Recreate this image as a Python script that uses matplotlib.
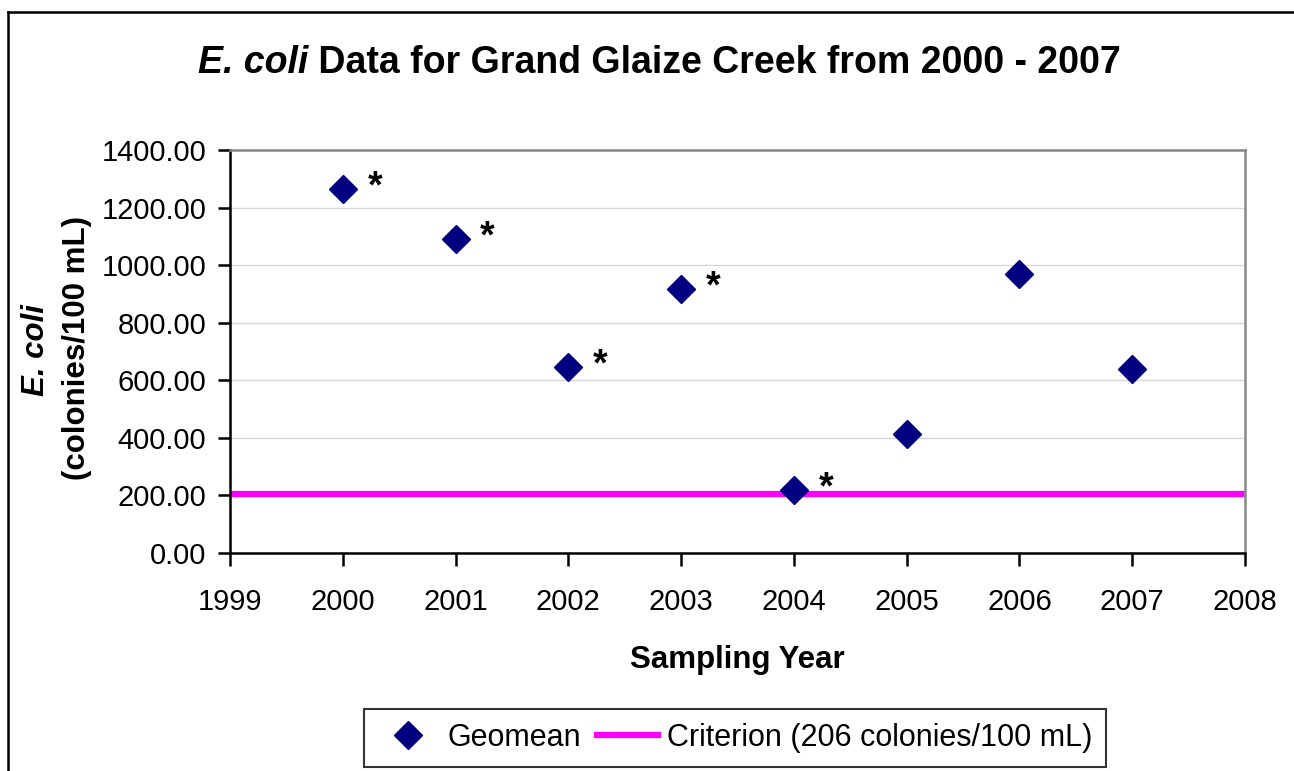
import numpy as np
import matplotlib.pyplot as plt
from matplotlib.lines import Line2D

plt.rcParams['font.family'] = ['Liberation Sans', 'DejaVu Sans']

# Data
years = [2000, 2001, 2002, 2003, 2004, 2005, 2006, 2007]
geomean = [1265, 1090, 645, 918, 220, 413, 968, 638]
flagged = [2000, 2001, 2002, 2003, 2004]   # years marked with *
criterion = 206
x_ticks = list(range(1999, 2009))
y_ticks = list(range(0, 1401, 200))

W, H = 1294, 771
fig = plt.figure(figsize=(W / 100, H / 100), dpi=100)

# outer chart border (only left and top edges visible in the crop)
fig.add_artist(Line2D([8 / W, 8 / W], [0, 1 - 12 / H], color='black', lw=1.8))
fig.add_artist(Line2D([8 / W, 1], [1 - 12 / H, 1 - 12 / H], color='black', lw=1.8))

left, right, top, bottom = 230, 1245, 150, 553
ax = fig.add_axes([left / W, 1 - bottom / H, (right - left) / W, (bottom - top) / H])

ax.axhline(criterion, color='#FF00FF', lw=4.5, zorder=2,
           label='Criterion (206 colonies/100 mL)')
ax.plot(years, geomean, linestyle='none', marker='D', ms=14.5, color='#000080',
        zorder=3, label='Geomean')

for yr, val in zip(years, geomean):
    if yr in flagged:
        ax.annotate('*', xy=(yr, val), xytext=(23, -6), textcoords='offset points',
                    ha='center', va='baseline', fontsize=27, fontweight='bold')

ax.set_xlim(1999, 2008)
ax.set_ylim(0, 1400)
ax.set_xticks(x_ticks)
ax.set_yticks(y_ticks)
ax.set_yticklabels([f'{v:.2f}' for v in y_ticks])
ax.grid(axis='y', color='#d8d8d8', lw=1)
ax.set_axisbelow(True)

for s in ['left', 'bottom']:
    ax.spines[s].set_color('black')
    ax.spines[s].set_linewidth(1.8)
for s in ['top', 'right']:
    ax.spines[s].set_color('#888888')
    ax.spines[s].set_linewidth(1.8)

ax.tick_params(axis='x', direction='out', length=9, width=1.8, pad=16, labelsize=21)
ax.tick_params(axis='y', direction='out', length=9, width=1.8, pad=8, labelsize=21)

ax.set_xlabel('Sampling Year', fontsize=22.5, fontweight='bold', labelpad=21)

# y label: two lines with mixed styles
fig.text(36 / W, 1 - 350 / H, 'E. coli', rotation=90, ha='center', va='center',
         fontsize=22.5, fontweight='bold', fontstyle='italic')
fig.text(77 / W, 1 - 348 / H, '(colonies/100 mL)', rotation=90, ha='center',
         va='center', fontsize=22.5, fontweight='bold')

# title: italic part + bold part, centred together
t1 = fig.text(0, 1 - 63 / H, 'E. coli', fontsize=27, fontweight='bold',
              fontstyle='italic', va='center', ha='left')
t2 = fig.text(0, 1 - 63 / H, ' Data for Grand Glaize Creek from 2000 - 2007',
              fontsize=27, fontweight='bold', va='center', ha='left')
fig.canvas.draw()
r = fig.canvas.get_renderer()
w1 = t1.get_window_extent(r).width
w2 = t2.get_window_extent(r).width
x0 = 659 - (w1 + w2) / 2
t1.set_x(x0 / W)
t2.set_x((x0 + w1) / W)

handles, labels = ax.get_legend_handles_labels()
leg = fig.legend(handles[::-1], labels[::-1], loc='center', ncol=2,
                 bbox_to_anchor=(735 / W, 1 - 738 / H), fontsize=22,
                 frameon=True, fancybox=False, edgecolor='black',
                 handlelength=2.0, handletextpad=0.3, columnspacing=0.5,
                 borderpad=0.45, borderaxespad=0)
leg.get_frame().set_linewidth(1.5)

fig.savefig('out.png', dpi=100)
